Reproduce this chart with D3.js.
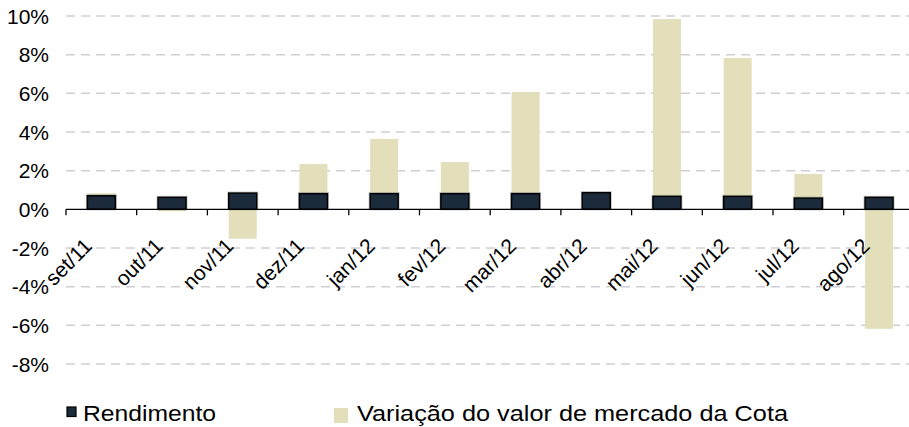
<!DOCTYPE html>
<html>
<head>
<meta charset="utf-8">
<script src="https://cdn.jsdelivr.net/npm/d3@7"></script>
<style>
  html, body { margin: 0; padding: 0; background: #fff; }
  svg { display: block; font-family: "Liberation Sans", Arial, sans-serif; }
</style>
</head>
<body>
<div id="chart"></div>
<script>
(function () {
    'use strict';

    var months = ["set/11", "out/11", "nov/11", "dez/11", "jan/12", "fev/12",
                  "mar/12", "abr/12", "mai/12", "jun/12", "jul/12", "ago/12"];
    var rendimento = [0.70, 0.62, 0.84, 0.81, 0.81, 0.81, 0.81, 0.86, 0.67, 0.67, 0.58, 0.62];
    var variacao = [0.83, -0.10, -1.52, 2.34, 3.64, 2.45, 6.07, 0.40, 9.84, 7.83, 1.83, -6.18];
    var yTicks = [-8, -6, -4, -2, 0, 2, 4, 6, 8, 10];
    var seriesNames = ["Rendimento", "Variação do valor de mercado da Cota"];

    var width = 909, height = 427,
        colors = { dark: "#1b2b3b", beige: "#e2dfba", grid: "#cfcfd3" };

    var svg = d3.select("#chart").append("svg")
        .attr("width", width)
        .attr("height", height);

    var x = d3.scaleBand()
        .domain(months)
        .range([66, 914.4])
        .paddingInner(0)
        .paddingOuter(0);

    var y = d3.scaleLinear()
        .domain([-8, 10])
        .range([364, 16]);

    var barW = 28;
    function barX(d, i) { return x(months[i]) + x.bandwidth() / 2 - barW / 2; }

    // gridlines
    svg.append("g")
        .selectAll("line")
        .data(yTicks.filter(function (t) { return t !== 0; }))
        .enter()
        .append("line")
        .attr("x1", 66)
        .attr("x2", width)
        .attr("y1", function (d) { return y(d); })
        .attr("y2", function (d) { return y(d); })
        .attr("stroke", colors.grid)
        .attr("stroke-width", 1.5)
        .attr("stroke-dasharray", "9,6");

    // y labels
    svg.append("g")
        .selectAll("text")
        .data(yTicks)
        .enter()
        .append("text")
        .attr("x", 49)
        .attr("y", function (d) { return y(d); })
        .attr("dy", "0.36em")
        .attr("text-anchor", "end")
        .style("font-size", "21px")
        .style("fill", "#000")
        .text(function (d) { return d + "%"; });

    // variação bars (behind)
    svg.append("g")
        .selectAll("rect")
        .data(variacao)
        .enter()
        .append("rect")
        .attr("x", barX)
        .attr("width", barW)
        .attr("y", function (d) { return y(Math.max(0, d)); })
        .attr("height", function (d) { return Math.abs(y(d) - y(0)); })
        .attr("fill", colors.beige);

    // rendimento bars (front) with faint shadow
    var rg = svg.append("g");
    rg.selectAll("rect.shadow")
        .data(rendimento)
        .enter()
        .append("rect")
        .attr("class", "shadow")
        .attr("x", function (d, i) { return barX(d, i) - 1; })
        .attr("width", barW + 2)
        .attr("y", function (d) { return y(d) - 1; })
        .attr("height", function (d) { return y(0) - y(d) + 1; })
        .attr("fill", "none")
        .attr("stroke", "#999")
        .attr("stroke-width", 1)
        .attr("opacity", 0.6);
    rg.selectAll("rect.bar")
        .data(rendimento)
        .enter()
        .append("rect")
        .attr("class", "bar")
        .attr("x", barX)
        .attr("width", barW)
        .attr("y", function (d) { return y(d); })
        .attr("height", function (d) { return y(0) - y(d); })
        .attr("fill", colors.dark)
        .attr("stroke", "#000")
        .attr("stroke-width", 1.5);

    // zero axis with ticks
    var y0 = y(0);
    svg.append("line")
        .attr("x1", 66).attr("x2", width)
        .attr("y1", y0).attr("y2", y0)
        .attr("stroke", "#000")
        .attr("stroke-width", 1.3);

    svg.append("g")
        .selectAll("line")
        .data(months)
        .enter()
        .append("line")
        .attr("x1", function (d) { return x(d); })
        .attr("x2", function (d) { return x(d); })
        .attr("y1", y0)
        .attr("y2", y0 + 6)
        .attr("stroke", "#000")
        .attr("stroke-width", 1.3);

    // month labels rotated
    svg.append("g")
        .selectAll("text")
        .data(months)
        .enter()
        .append("text")
        .attr("transform", function (d) {
            return "translate(" + (x(d) + x.bandwidth() / 2 - 8) + "," + (y0 + 38) + ") rotate(-45)";
        })
        .attr("text-anchor", "end")
        .style("font-size", "21px")
        .style("fill", "#000")
        .text(function (d) { return d; });

    // legend
    var legend = svg.append("g");
    legend.append("rect")
        .attr("x", 67).attr("y", 407)
        .attr("width", 9).attr("height", 9.5)
        .attr("fill", colors.dark)
        .attr("stroke", "#000")
        .attr("stroke-width", 1.2);
    legend.append("text")
        .attr("x", 83).attr("y", 421)
        .attr("textLength", 133)
        .attr("lengthAdjust", "spacingAndGlyphs")
        .style("font-size", "21.5px")
        .text(seriesNames[0]);
    legend.append("rect")
        .attr("x", 334).attr("y", 408)
        .attr("width", 14).attr("height", 15)
        .attr("fill", colors.beige);
    legend.append("text")
        .attr("x", 357).attr("y", 421)
        .attr("textLength", 431)
        .attr("lengthAdjust", "spacingAndGlyphs")
        .style("font-size", "21.5px")
        .text(seriesNames[1]);
}());
</script>
</body>
</html>
